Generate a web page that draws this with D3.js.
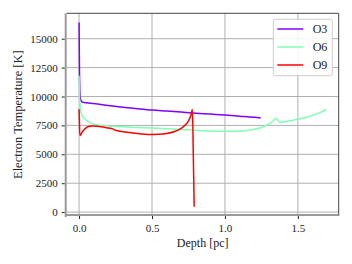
<!DOCTYPE html>
<html>
<head>
<meta charset="utf-8">
<script src="https://cdn.jsdelivr.net/npm/d3@7"></script>
<style>
body{margin:0;background:#fff}
text{font-family:"Liberation Serif","DejaVu Serif",serif;fill:#222}
</style>
</head>
<body>
<svg id="chart" width="352" height="264"></svg>
<script>
// depth [pc] / electron temperature [K]
var o3Depth = [0,0.003,0.006,0.01,0.015,0.02,0.03,0.05,0.1,0.2,0.3,0.4,0.5,0.6,0.7,0.8,0.9,1.0,1.1,1.2,1.245]
var o3Temp  = [16400,12000,10300,9800,9620,9540,9490,9450,9390,9230,9080,8950,8830,8740,8650,8560,8480,8400,8300,8200,8130]

var o6Depth = [0,0.003,0.006,0.01,0.02,0.04,0.07,0.1,0.15,0.2,0.3,0.4,0.5,0.6,0.7,0.8,0.9,1.0,1.1,1.15,1.2,1.25,1.3,1.33,1.35,1.36,1.375,1.4,1.45,1.5,1.55,1.6,1.65,1.695]
var o6Temp  = [11800,10000,9300,8800,8400,8050,7780,7600,7500,7450,7380,7320,7270,7220,7150,7080,7020,6990,7010,7060,7160,7320,7600,7900,8100,8000,7750,7800,7900,8030,8180,8370,8600,8880]

var o9Depth = [0,0.002,0.005,0.01,0.02,0.04,0.07,0.1,0.15,0.2,0.23,0.25,0.27,0.3,0.35,0.4,0.45,0.5,0.55,0.6,0.65,0.7,0.73,0.75,0.765,0.777,0.783,0.789]
var o9Temp  = [8900,8100,6650,6650,6900,7200,7420,7450,7380,7270,7200,7080,7020,6960,6880,6800,6740,6720,6730,6800,6950,7250,7550,7900,8300,8880,5000,460]

var seriesNames = ['O3','O6','O9']
var seriesColors = ['#8000ff','#80feb3','#ff0000']
var xTicks = [0,0.5,1.0,1.5]
var yTicks = [0,2500,5000,7500,10000,12500,15000]

var series = [
	{name:seriesNames[0],color:seriesColors[0],pts:o3Depth.map((d,i)=>[d,o3Temp[i]])},
	{name:seriesNames[1],color:seriesColors[1],pts:o6Depth.map((d,i)=>[d,o6Temp[i]])},
	{name:seriesNames[2],color:seriesColors[2],pts:o9Depth.map((d,i)=>[d,o9Temp[i]])}
]

var svg = d3.select('#chart')
var axL = 66.7, axR = 338.7, axT = 13.3, axB = 216

// matplotlib style 5% margins
function pad(ext){var m=(ext[1]-ext[0])*0.05;return [ext[0]-m,ext[1]+m]}
var allPts = series.flatMap(s=>s.pts)
var x = d3.scaleLinear().domain(pad(d3.extent(allPts,p=>p[0]))).range([axL,axR])
var y = d3.scaleLinear().domain(pad(d3.extent(allPts,p=>p[1]))).range([axB,axT])

var grid = svg.append('g').attr('id','grid')
xTicks.forEach(t=>{
	grid.append('line').attr('x1',x(t)).attr('x2',x(t)).attr('y1',axT).attr('y2',axB)
		.style('stroke','#b0b0b0').style('stroke-width',1)
})
yTicks.forEach(t=>{
	grid.append('line').attr('x1',axL).attr('x2',axR).attr('y1',y(t)).attr('y2',y(t))
		.style('stroke','#b0b0b0').style('stroke-width',1)
})

var lines = svg.append('g').attr('id','lines')
var line = d3.line().x(d=>x(d[0])).y(d=>y(d[1])).curve(d3.curveMonotoneX)
series.forEach(s=>{
	lines.append('path').datum(s.pts).attr('d',line)
		.style('fill','none').style('stroke',s.color).style('stroke-width',1.5)
		.style('stroke-linejoin','round')
})

// frame
svg.append('line').attr('x1',axL).attr('x2',axR).attr('y1',axT).attr('y2',axT).style('stroke','#444').style('stroke-width',1)
svg.append('line').attr('x1',axR).attr('x2',axR).attr('y1',axT).attr('y2',axB).style('stroke','#444').style('stroke-width',1)
svg.append('line').attr('x1',axL-1).attr('x2',axL-1).attr('y1',axT).attr('y2',axB+1).style('stroke','#999').style('stroke-width',2)
svg.append('line').attr('x1',axL-1).attr('x2',axR).attr('y1',axB-1).attr('y2',axB-1).style('stroke','#999').style('stroke-width',2)

var xAxis = svg.append('g').attr('transform',`translate(0,${axB})`)
	.call(d3.axisBottom(x).tickValues(xTicks).tickFormat(d3.format('.1f')).tickSize(3).tickPadding(5))
var yAxis = svg.append('g').attr('transform',`translate(${axL-2},0)`)
	.call(d3.axisLeft(y).tickValues(yTicks).tickFormat(d=>d).tickSize(3).tickPadding(4))
;[xAxis,yAxis].forEach(a=>{
	a.select('.domain').remove()
	a.selectAll('line').style('stroke','#222')
	a.selectAll('text').style('font-size','11px').style('font-family','"Liberation Serif",serif').style('fill','#222')
})

svg.append('text').text('Depth [pc]')
	.attr('x',(axL+axR)/2).attr('y',247)
	.attr('text-anchor','middle').style('font-size','12px')
svg.append('text').text('Electron Temperature [K]')
	.attr('transform',`translate(22,${(axT+axB)/2}) rotate(-90)`)
	.attr('text-anchor','middle').style('font-size','12.5px')

// legend
var legend = svg.append('g').attr('transform','translate(273.3,19.3)')
legend.append('rect').attr('width',59).attr('height',56.4).attr('rx',2)
	.style('fill','#fff').style('fill-opacity',0.85).style('stroke','#ccc').style('stroke-width',1)
series.forEach((s,i)=>{
	var ly = 9.7 + i*18
	legend.append('line').attr('x1',4).attr('x2',30).attr('y1',ly).attr('y2',ly)
		.style('stroke',s.color).style('stroke-width',1.5)
	legend.append('text').text(s.name).attr('x',39.4).attr('y',ly+4)
		.style('font-size','12px')
})
</script>
</body>
</html>
